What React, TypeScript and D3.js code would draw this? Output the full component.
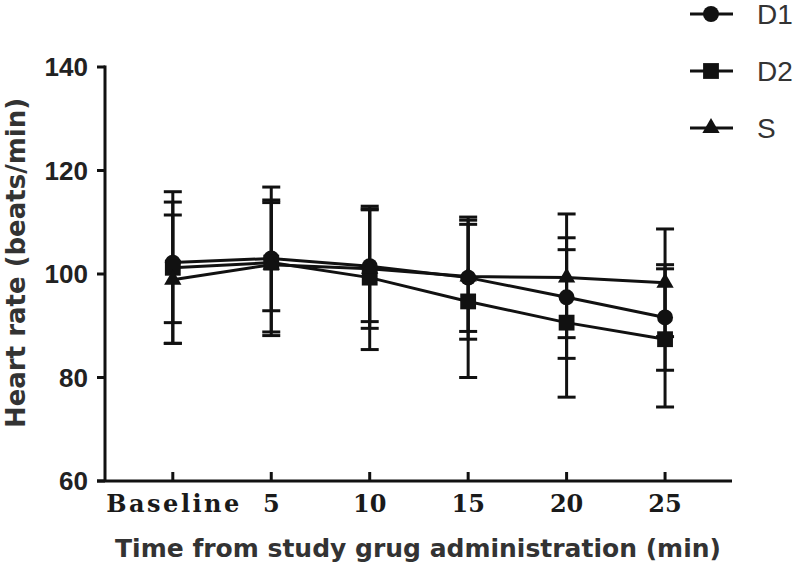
import React from 'react';
import * as d3 from 'd3';

const categories = ['Baseline', '5', '10', '15', '20', '25'];
const d1Mean = [102.2, 103.0, 101.5, 99.3, 95.5, 91.6];
const d1Low = [90.6, 92.9, 90.8, 87.4, 83.7, 81.4];
const d1High = [113.9, 113.8, 112.4, 111.0, 107.0, 101.8];
const d2Mean = [101.2, 102.2, 99.3, 94.7, 90.6, 87.4];
const d2Low = [86.6, 88.1, 85.4, 80.0, 76.2, 74.3];
const d2High = [115.9, 116.8, 113.1, 109.6, 104.7, 101.0];
const sMean = [98.9, 101.8, 101.0, 99.5, 99.3, 98.3];
const sLow = [86.6, 88.8, 89.5, 88.9, 87.7, 87.9];
const sHigh = [111.4, 114.3, 112.6, 110.4, 111.6, 108.7];
const yTicks = [60, 80, 100, 120, 140];
const seriesNames = ['D1', 'D2', 'S'];

const series = [
  { name: seriesNames[0], mean: d1Mean, low: d1Low, high: d1High, symbol: d3.symbolCircle, size: 200 },
  { name: seriesNames[1], mean: d2Mean, low: d2Low, high: d2High, symbol: d3.symbolSquare, size: 250 },
  { name: seriesNames[2], mean: sMean, low: sLow, high: sHigh, symbol: d3.symbolTriangle, size: 130 },
];

export default function App() {
  const x = d3.scaleLinear().domain([-0.77, 5.68]).range([97, 732]);
  const y = d3.scaleLinear().domain([60, 140]).range([481, 67]);
  const axisX = 105;
  const axisY = 481;
  const line = d3.line<number>().x((_, i) => x(i)).y((v) => y(v));
  const cap = 9;
  const ink = '#111';

  return (
    <svg width={800} height={568} style={{ position: 'absolute', left: 0, top: 0, background: '#fff' }}>
      <rect x={0} y={0} width={800} height={568} fill="#fff" />
      {/* axes */}
      <line x1={axisX} x2={axisX} y1={y(140) - 1.5} y2={axisY} stroke={ink} strokeWidth={3} />
      <line x1={x.range()[0]} x2={x.range()[1]} y1={axisY} y2={axisY} stroke={ink} strokeWidth={3} />
      {yTicks.map((t) => (
        <g key={t}>
          <line x1={axisX - 8} x2={axisX} y1={y(t)} y2={y(t)} stroke={ink} strokeWidth={3} />
          <text x={88} y={y(t)} dy="0.36em" textAnchor="end" fontFamily="Liberation Sans, Arial, sans-serif" fontWeight="bold" fontSize={26} fill="#222">{t}</text>
        </g>
      ))}
      {categories.map((c, i) => {
        const sp = c.length > 2 ? 2.5 : 0;
        return (
          <g key={c}>
            <line x1={x(i)} x2={x(i)} y1={axisY} y2={axisY - 9} stroke={ink} strokeWidth={3} />
            <text x={x(i) + sp / 2} y={512} textAnchor="middle" fontFamily="DejaVu Serif, serif" fontWeight="bold" fontSize={24} letterSpacing={sp} fill="#1a1a1a">{c}</text>
          </g>
        );
      })}
      <text transform={`translate(25,263) rotate(-90)`} textAnchor="middle" fontFamily="DejaVu Sans, Verdana, sans-serif" fontWeight="bold" fontSize={26} fill="#333">Heart rate (beats/min)</text>
      <text x={418} y={557} textAnchor="middle" fontFamily="DejaVu Sans, Verdana, sans-serif" fontWeight="bold" fontSize={25} fill="#333">Time from study grug administration (min)</text>

      {/* error bars */}
      {series.map((s) => (
        <g key={'e' + s.name}>
          {s.mean.map((_, i) => (
            <g key={i}>
              <line x1={x(i)} x2={x(i)} y1={y(s.low[i])} y2={y(s.high[i])} stroke={ink} strokeWidth={3} />
              <line x1={x(i) - cap} x2={x(i) + cap} y1={y(s.low[i])} y2={y(s.low[i])} stroke={ink} strokeWidth={3} />
              <line x1={x(i) - cap} x2={x(i) + cap} y1={y(s.high[i])} y2={y(s.high[i])} stroke={ink} strokeWidth={3} />
            </g>
          ))}
        </g>
      ))}
      {/* lines */}
      {series.map((s) => (
        <path key={'l' + s.name} d={line(s.mean) || ''} fill="none" stroke={ink} strokeWidth={3} />
      ))}
      {/* markers */}
      {series.map((s) => (
        <g key={'m' + s.name}>
          {s.mean.map((v, i) => (
            <path key={i} d={d3.symbol().type(s.symbol).size(s.size)() || ''} transform={`translate(${x(i)},${y(v)})`} fill={ink} />
          ))}
        </g>
      ))}
      {/* legend */}
      {series.map((s, k) => {
        const ly = 14 + k * 57;
        return (
          <g key={'g' + s.name}>
            <line x1={690} x2={733} y1={ly} y2={ly} stroke={ink} strokeWidth={3} />
            <path d={d3.symbol().type(s.symbol).size(s.size)() || ''} transform={`translate(711,${ly})`} fill={ink} />
            <text x={757} y={ly} dy="0.36em" fontFamily="Liberation Sans, Arial, sans-serif" fontSize={28} fill="#333">{s.name}</text>
          </g>
        );
      })}
    </svg>
  );
}
